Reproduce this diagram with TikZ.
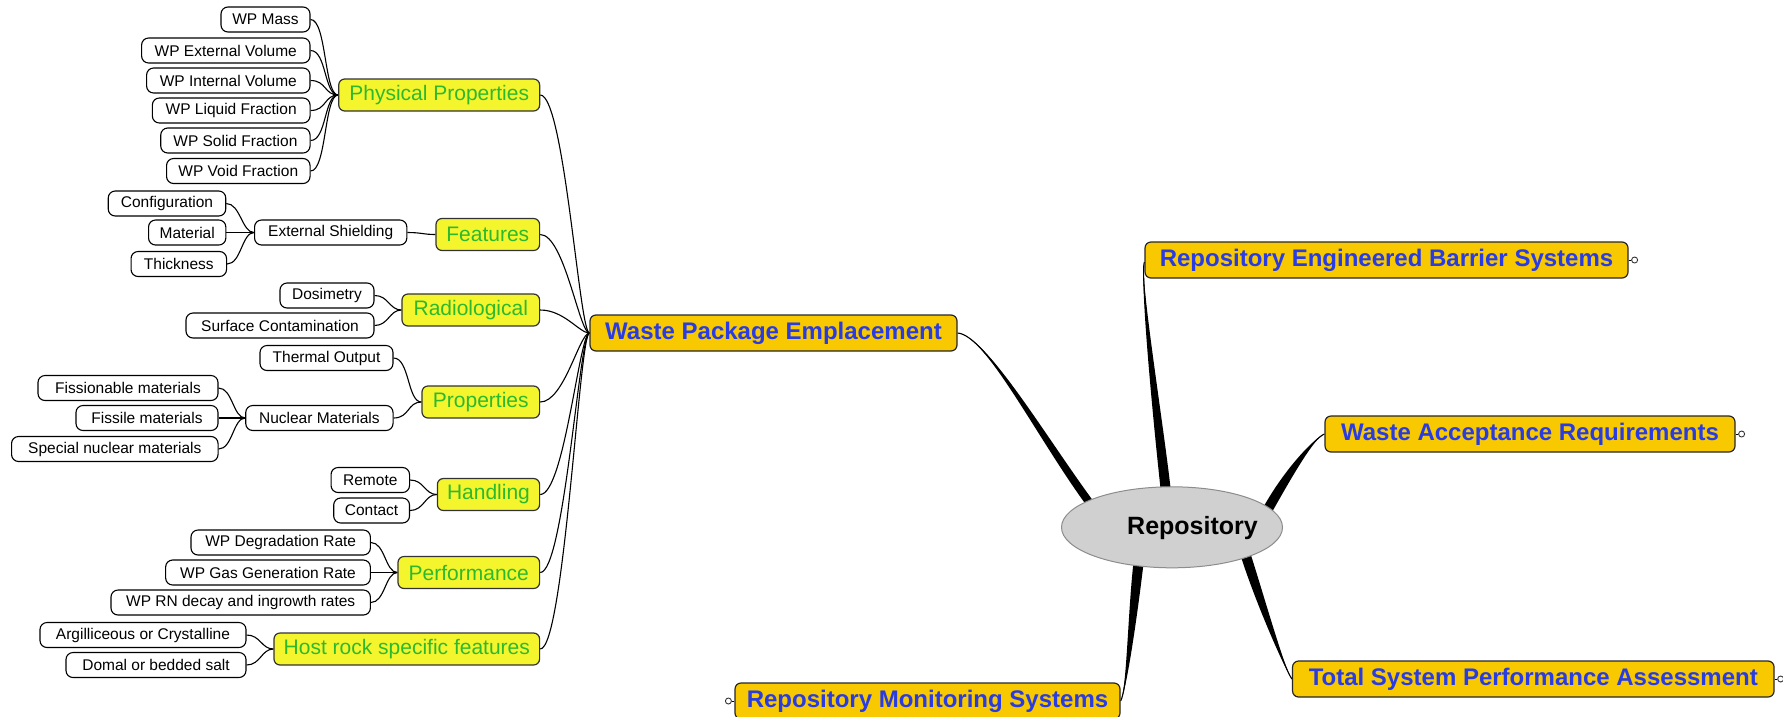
\documentclass[tikz,border=0pt]{standalone}
\usepackage{fontspec}
\setmainfont{Liberation Sans}
\usetikzlibrary{shapes.geometric,calc,backgrounds}
\definecolor{gold}{RGB}{248,200,0}
\definecolor{lemon}{RGB}{245,245,45}
\definecolor{leafgreen}{RGB}{45,185,45}
\definecolor{mainblue}{RGB}{40,60,225}
\definecolor{ellgray}{RGB}{208,208,208}
\begin{document}
\begin{tikzpicture}[x=1pt,y=-1pt,
  leaf/.style={draw=black, line width=1.1pt, fill=white, rounded corners=7pt, minimum height=25pt, inner sep=0pt, font=\fontsize{15.5}{18}\selectfont},
  sub/.style={draw=black!80, line width=1.2pt, fill=lemon, rounded corners=6pt, minimum height=32pt, inner sep=0pt, text=leafgreen, font=\fontsize{21}{24}\selectfont},
  topic/.style={draw=black!85, line width=1.2pt, fill=gold, rounded corners=6pt, minimum height=36pt, inner sep=0pt, text=mainblue, font=\bfseries\fontsize{24}{28}\selectfont},
  knob/.style={circle, draw=black!80, line width=0.9pt, fill=white, minimum size=6pt, inner sep=0pt},
  link/.style={line width=1.1pt, black},
  taper/.style={fill=black}]
\useasboundingbox (0,0) rectangle (1783,716);

% ---------- leaves ----------
\node[leaf, minimum width=89pt]    (mass)   at (265.5,19.5) {WP Mass};
\node[leaf, minimum width=168.4pt] (extvol) at (225.8,50.5) {WP External Volume};
\node[leaf, minimum width=163.4pt] (intvol) at (228.3,80.5) {WP Internal Volume};
\node[leaf, minimum width=157.7pt] (liquid) at (231.2,110.5) {WP Liquid Fraction};
\node[leaf, minimum width=149.3pt] (solid)  at (235.4,140.5) {WP Solid Fraction};
\node[leaf, minimum width=143.5pt] (void)   at (238.3,171) {WP Void Fraction};

\node[leaf, minimum width=117.5pt] (config)   at (167,203.5) {Configuration};
\node[leaf, minimum width=77.3pt]  (material) at (187.2,232.5) {Material};
\node[leaf, minimum width=95.5pt]  (thick)    at (178.8,264) {Thickness};
\node[leaf, minimum width=152.3pt] (extshield) at (330.7,232.5) {External Shielding};

\node[leaf, minimum width=94pt]  (dosim)    at (327,295.5) {Dosimetry};
\node[leaf, minimum width=188pt] (surfcont) at (280,325.5) {Surface Contamination};

\node[leaf, minimum width=133pt]   (thermal)     at (326.5,358) {Thermal Output};
\node[leaf, minimum width=180pt]   (fissionable) at (128,388) {Fissionable materials};
\node[leaf, minimum width=142pt]   (fissile)     at (147,418) {Fissile materials};
\node[leaf, minimum width=206.5pt] (special)     at (114.8,449) {Special nuclear materials};
\node[leaf, minimum width=147.3pt] (nuclear)     at (319.4,418) {Nuclear Materials};

\node[leaf, minimum width=78.5pt] (remote)  at (370.3,480) {Remote};
\node[leaf, minimum width=75.8pt] (contact) at (371.6,510.5) {Contact};

\node[leaf, minimum width=179.4pt] (degr) at (280.7,542.5) {WP Degradation Rate};
\node[leaf, minimum width=204.7pt] (gas)  at (268,572.5) {WP Gas Generation Rate};
\node[leaf, minimum width=259.4pt] (rn)   at (240.7,602.5) {WP RN decay and ingrowth rates};

\node[leaf, minimum width=206pt] (argill) at (143,635) {Argilliceous or Crystalline};
\node[leaf, minimum width=180pt] (domal)  at (156,665) {Domal or bedded salt};

% ---------- sub-topics ----------
\node[sub, minimum width=200.9pt] (phys)     at (439.2,95)    {Physical Properties};
\node[sub, minimum width=103.6pt] (features) at (487.8,234.5) {Features};
\node[sub, minimum width=137.6pt] (radio)    at (470.8,310)   {Radiological};
\node[sub, minimum width=117.6pt] (props)    at (480.8,402)   {Properties};
\node[sub, minimum width=102.2pt] (handling) at (488.5,494.5) {Handling};
\node[sub, minimum width=141.6pt] (perf)     at (468.8,572.5) {Performance};
\node[sub, minimum width=265.6pt] (host)     at (406.8,649)   {Host rock specific features};

% ---------- main topics ----------
\node[topic, minimum width=367pt]   (wpe)  at (773.5,333)  {Waste Package Emplacement};
\node[topic, minimum width=483pt]   (rebs) at (1386.5,260) {Repository Engineered Barrier Systems};
\node[topic, minimum width=410pt]   (war)  at (1530,434)   {Waste Acceptance Requirements};
\node[topic, minimum width=481.5pt] (tspa) at (1533.3,679) {Total System Performance Assessment};
\node[topic, minimum width=385pt]   (rms)  at (927.5,701)  {Repository Monitoring Systems};

\node[knob] (rebsk) at ($(rebs.east)+(6,0)$) {};
\node[knob] (wark)  at ($(war.east)+(6,0)$) {};
\node[knob] (tspak) at ($(tspa.east)+(6,0)$) {};
\node[knob] (rmsk)  at ($(rms.west)+(-6,0)$) {};
\draw[line width=0.9pt] (rebs.east) -- (rebsk.west);
\draw[line width=0.9pt] (war.east) -- (wark.west);
\draw[line width=0.9pt] (tspa.east) -- (tspak.west);
\draw[line width=0.9pt] (rms.west) -- (rmsk.east);

% ---------- central ----------
\node[ellipse, draw=black!45, line width=1pt, fill=ellgray, minimum width=221pt, minimum height=81pt, inner sep=0pt] (repo) at (1172,527.3) {};
\node[font=\bfseries\fontsize{25}{30}\selectfont] (repotext) at (1192.5,528) {Repository};

% ---------- connectors ----------
\begin{scope}[on background layer]
  % tapered connectors to the central ellipse
  \coordinate (e1a) at (1092.2,499.6); \coordinate (e1b) at (1085.8,504.4);
  \coordinate (c1a) at (1043.2,432.6); \coordinate (c1b) at (1036.8,437.4);
  \fill[taper] (wpe.east) .. controls +(28,2) and (c1a) .. (e1a) -- (e1b) .. controls (c1b) and +(28,2) .. (wpe.east);
  \draw[link] (wpe.east) .. controls +(28,2) and (1040,435) .. (1089,502);

  \coordinate (e2a) at (1171,492); \coordinate (e2b) at (1161,493);
  \coordinate (c2a) at (1163,420); \coordinate (c2b) at (1153,420);
  \fill[taper] ($(rebs.west)+(0,2)$) .. controls +(-5,15) and (c2a) .. (e2a) -- (e2b) .. controls (c2b) and +(-5,15) .. ($(rebs.west)+(0,2)$);
  \draw[link] ($(rebs.west)+(0,2)$) .. controls +(-5,15) and (1158,420) .. (1166,492);

  \coordinate (e3a) at (1272.3,511.5); \coordinate (e3b) at (1263.7,506.5);
  \coordinate (c3a) at (1294.3,472.5); \coordinate (c3b) at (1285.7,467.5);
  \fill[taper] (war.west) .. controls +(-10,4) and (c3a) .. (e3a) -- (e3b) .. controls (c3b) and +(-10,4) .. (war.west);
  \draw[link] (war.west) .. controls +(-10,4) and (1290,470) .. (1268,509);

  \coordinate (e4a) at (1250.75,554.45); \coordinate (e4b) at (1241.25,557.55);
  \coordinate (c4a) at (1264.75,598.45); \coordinate (c4b) at (1255.25,601.55);
  \fill[taper] (tspa.west) .. controls +(-7,-9) and (c4a) .. (e4a) -- (e4b) .. controls (c4b) and +(-7,-9) .. (tspa.west);
  \draw[link] (tspa.west) .. controls +(-7,-9) and (1260,600) .. (1246,556);

  \coordinate (e5a) at (1143.5,563.6); \coordinate (e5b) at (1133.5,562.4);
  \coordinate (c5a) at (1138,610.6); \coordinate (c5b) at (1128,609.4);
  \fill[taper] (rms.east) .. controls +(6,-10) and (c5a) .. (e5a) -- (e5b) .. controls (c5b) and +(6,-10) .. (rms.east);
  \draw[link] (rms.east) .. controls +(6,-10) and (1133,610) .. (1138.5,563);

  % sub-topics to Waste Package Emplacement
  \foreach \c in {phys,features,radio,props,handling,perf,host}
    \draw[link] (\c.east) .. controls +(24,0) and +(-10,0) .. (wpe.west);

  % leaves to sub-topics
  \foreach \c in {mass,extvol,intvol,liquid,solid,void}
    \draw[link] (\c.east) .. controls +(16,0) and +(-14,0) .. (phys.west);
  \foreach \c in {config,material,thick}
    \draw[link] (\c.east) .. controls +(14,0) and +(-12,0) .. (extshield.west);
  \draw[link] (extshield.east) .. controls +(14,0) and +(-12,0) .. (features.west);
  \foreach \c in {dosim,surfcont}
    \draw[link] (\c.east) .. controls +(14,0) and +(-12,0) .. (radio.west);
  \foreach \c in {fissionable,fissile,special}
    \draw[link] (\c.east) .. controls +(14,0) and +(-12,0) .. (nuclear.west);
  \foreach \c in {thermal,nuclear}
    \draw[link] (\c.east) .. controls +(16,0) and +(-14,0) .. (props.west);
  \foreach \c in {remote,contact}
    \draw[link] (\c.east) .. controls +(14,0) and +(-12,0) .. (handling.west);
  \foreach \c in {degr,gas,rn}
    \draw[link] (\c.east) .. controls +(14,0) and +(-12,0) .. (perf.west);
  \foreach \c in {argill,domal}
    \draw[link] (\c.east) .. controls +(14,0) and +(-12,0) .. (host.west);
\end{scope}
\end{tikzpicture}
\end{document}
